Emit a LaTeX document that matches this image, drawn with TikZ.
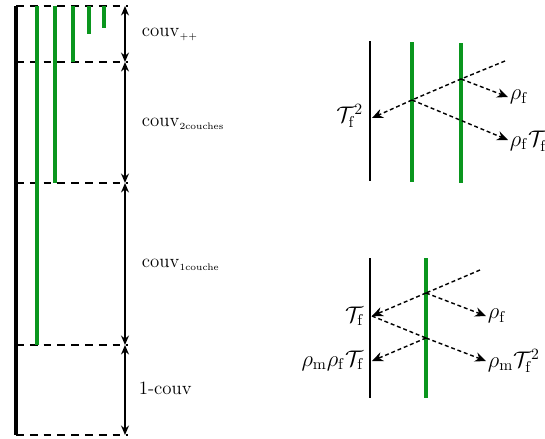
\documentclass[tikz,border=0pt]{standalone}
\usepackage{tikz}
\usetikzlibrary{calc, arrows.meta, positioning}
\definecolor{LayerGreen}{RGB}{10,150,30}

\begin{document}
\begin{tikzpicture}[
    x=0.0224cm, y=-0.0224cm,
    substrate/.style={line width=2.5pt, black},
    layer/.style={line width=2.5pt, LayerGreen},
    level/.style={dash pattern=on 5pt off 3.8pt, line width=1.2pt},
    span/.style={{Stealth[length=6pt,width=5pt]}-{Stealth[length=6pt,width=5pt]}, line width=1.2pt},
    ray/.style={-{Stealth[length=7pt,width=6pt]}, dash pattern=on 2.5pt off 1.8pt, line width=0.9pt},
    rayline/.style={dash pattern=on 2.5pt off 1.8pt, line width=0.9pt},
    lab/.style={inner sep=1pt, font=\large},
    coef/.style={inner sep=1pt, font=\Large},
]
\useasboundingbox (0,0) rectangle (545,438);

% niveaux de couverture
\foreach \y/\name in {6/l0, 62/l1, 183/l2, 345/l3, 435/l4}{
    \coordinate (\name w) at (16,\y);
    \coordinate (\name e) at (128,\y);
    \coordinate (\name a) at (125,\y);
    \draw[level] (\name w) -- (\name e);
}
\draw[substrate] (l0w) -- (l4w);

% couches vertes
\draw[layer] (37,6) -- (37,345);
\draw[layer] (55,6) -- (55,183);
\draw[layer] (73,6) -- (73,62);
\draw[layer] (89,6) -- (89,34);
\draw[layer] (104,6) -- (104,28);

% cotes
\draw[span] (l0a) -- (l1a);
\draw[span] (l1a) -- (l2a);
\draw[span] (l2a) -- (l3a);
\draw[span] (l3a) -- (l4a);
\node[lab, anchor=west] (cpp) at (140,35) {$\mathrm{couv}_{\scriptscriptstyle ++}$};
\node[lab, anchor=west] (c2) at (140,124) {$\mathrm{couv}_{\scriptscriptstyle\mathrm{2couches}}$};
\node[lab, anchor=west] (c1) at (140,265) {$\mathrm{couv}_{\scriptscriptstyle\mathrm{1couche}}$};
\node[lab, anchor=west] (c0) at (137,388) {1-couv};

% deux couches (haut)
\draw[substrate, line width=1.8pt] (370,41) -- (370,181);
\draw[layer] (412,42) -- (412,182);
\draw[layer] (461,43) -- (461,183);
\coordinate (src1) at (505,61);
\coordinate (h2) at (461,79);
\coordinate (h1) at (412,100);
\coordinate (b1) at (372,118);
\node[coef, anchor=east] (t2) at (365,116) {$\mathcal{T}_\mathrm{f}^2$};
\node[coef, anchor=west] (r1) at (508,97) {$\rho_\mathrm{f}$};
\node[coef, anchor=west] (r2) at (508,140) {$\rho_\mathrm{f}\mathcal{T}_\mathrm{f}^2$};
\draw[rayline] (src1) -- (h2) -- (h1);
\draw[ray] (h1) -- (b1);
\draw[ray] (h2) -- (r1.west);
\draw[ray] (h1) -- (r2.west);

% une couche (bas)
\draw[substrate, line width=1.8pt] (370,258) -- (370,398);
\draw[layer] (426,258) -- (426,398);
\coordinate (src2) at (480,270);
\coordinate (g1) at (426,293);
\coordinate (b2) at (372,316);
\coordinate (g2) at (426,338);
\coordinate (b3) at (372,361);
\node[coef, anchor=east] (t1) at (366,316) {$\mathcal{T}_\mathrm{f}$};
\node[coef, anchor=east] (t3) at (366,361) {$\rho_\mathrm{m}\rho_\mathrm{f}\mathcal{T}_\mathrm{f}$};
\node[coef, anchor=west] (r3) at (486,316) {$\rho_\mathrm{f}$};
\node[coef, anchor=west] (r4) at (486,361) {$\rho_\mathrm{m}\mathcal{T}_\mathrm{f}^2$};
\draw[rayline] (src2) -- (g1);
\draw[ray] (g1) -- (b2);
\draw[ray] (g1) -- (r3.west);
\draw[rayline] (b2) -- (g2);
\draw[ray] (g2) -- (r4.west);
\draw[ray] (g2) -- (b3);

\end{tikzpicture}
\end{document}
